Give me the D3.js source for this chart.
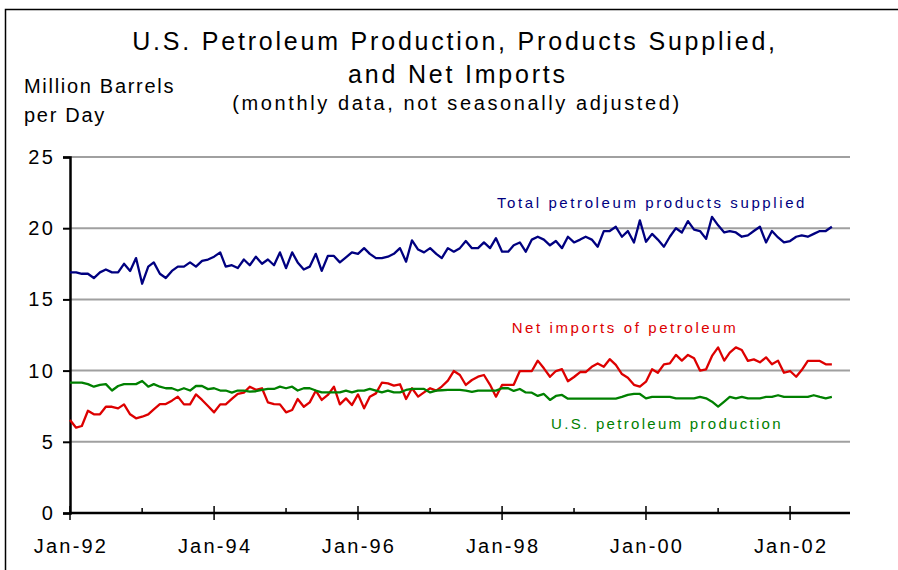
<!DOCTYPE html>
<html lang="en">
<head>
<meta charset="utf-8" />
<title>U.S. Petroleum Production, Products Supplied, and Net Imports</title>
<script src="https://d3js.org/d3.v7.min.js"></script>
<style>
  body { margin: 0; background: #fff; }
  svg  { display: block; font-family: "Liberation Sans", Arial, sans-serif; }
  .title  { font-size: 25px; letter-spacing: 2.8px; fill: #000; text-anchor: middle; }
  .sub    { font-size: 20px; letter-spacing: 2.6px; fill: #000; text-anchor: middle; }
  .unit   { font-size: 20px; letter-spacing: 1.7px; fill: #000; }
  .tick   { font-size: 20px; letter-spacing: 2.2px; fill: #000; }
  .slabel { font-size: 15px; letter-spacing: 2.6px; text-anchor: middle; }
  .grid   { stroke: #a0a0a0; stroke-width: 2px; }
  .series { fill: none; stroke-width: 2.3px; stroke-linejoin: round; }
</style>
</head>
<body>
<svg id="chart" width="898" height="570"></svg>
<script>
// ---- data: monthly, Jan-92 .. Aug-02 (million barrels per day) ----
const startMonth = "1992-01";

const supplied = [
  16.9,16.9,16.8,16.8,16.5,16.9,17.1,16.9,16.9,17.5,17.0,17.9,
  16.1,17.3,17.6,16.8,16.5,17.0,17.3,17.3,17.6,17.3,17.7,17.8,
  18.0,18.3,17.3,17.4,17.2,17.8,17.4,18.0,17.5,17.8,17.4,18.3,
  17.2,18.3,17.6,17.1,17.3,18.2,17.0,18.05,18.05,17.6,17.95,18.3,
  18.2,18.6,18.2,17.9,17.9,18.0,18.2,18.6,17.65,19.15,18.5,18.3,
  18.6,18.2,17.9,18.6,18.35,18.6,19.1,18.6,18.6,19.0,18.6,19.3,
  18.35,18.35,18.8,19.0,18.35,19.2,19.4,19.2,18.8,19.1,18.6,19.4,
  19.0,19.2,19.4,19.2,18.7,19.8,19.8,20.1,19.4,19.8,19.0,20.55,
  19.05,19.6,19.2,18.7,19.4,20.0,19.7,20.5,19.9,19.8,19.25,20.8,
  20.2,19.7,19.8,19.7,19.4,19.5,19.8,20.1,19.0,19.8,19.35,19.0,
  19.1,19.4,19.5,19.4,19.6,19.8,19.8,20.1
];

const imports = [
  6.53,5.99,6.11,7.18,6.93,6.93,7.46,7.46,7.35,7.63,6.93,6.65,
  6.76,6.93,7.28,7.65,7.65,7.89,8.17,7.63,7.63,8.33,7.94,7.51,
  7.07,7.63,7.63,8.01,8.36,8.45,8.87,8.65,8.76,7.77,7.65,7.63,
  7.07,7.23,8.01,7.46,7.77,8.59,7.94,8.29,8.87,7.63,8.05,7.58,
  8.33,7.35,8.17,8.4,9.15,9.1,8.94,9.04,8.01,8.76,8.17,8.47,
  8.76,8.59,8.88,9.3,9.97,9.69,8.99,9.34,9.57,9.69,9.0,8.17,
  8.99,9.0,9.0,9.97,9.97,9.97,10.7,10.16,9.57,9.97,10.1,9.25,
  9.55,9.9,9.9,10.27,10.5,10.27,10.8,10.4,9.76,9.5,9.0,8.87,
  9.22,10.09,9.85,10.44,10.51,11.1,10.7,11.1,10.86,10.0,10.09,11.03,
  11.63,10.7,11.26,11.63,11.45,10.68,10.79,10.58,10.93,10.44,10.7,9.85,
  9.97,9.57,10.04,10.68,10.68,10.68,10.44,10.44
];

const production = [
  9.15,9.15,9.15,9.05,8.87,9.0,9.05,8.6,8.92,9.05,9.05,9.05,
  9.27,8.87,9.05,8.87,8.76,8.76,8.6,8.76,8.6,8.92,8.92,8.7,
  8.76,8.6,8.6,8.45,8.6,8.6,8.52,8.55,8.64,8.71,8.71,8.87,
  8.76,8.87,8.6,8.76,8.76,8.6,8.47,8.47,8.47,8.47,8.6,8.47,
  8.6,8.6,8.71,8.6,8.47,8.6,8.47,8.47,8.64,8.71,8.71,8.71,
  8.47,8.6,8.62,8.64,8.64,8.64,8.59,8.5,8.59,8.59,8.59,8.59,
  8.76,8.76,8.57,8.71,8.47,8.45,8.22,8.36,7.94,8.22,8.29,8.03,
  8.03,8.03,8.03,8.03,8.03,8.03,8.03,8.03,8.15,8.29,8.36,8.36,
  8.05,8.15,8.15,8.15,8.15,8.05,8.05,8.05,8.05,8.15,8.05,7.82,
  7.47,7.82,8.15,8.05,8.15,8.05,8.05,8.05,8.15,8.15,8.27,8.15,
  8.15,8.15,8.15,8.15,8.27,8.15,8.05,8.15
];

const yTicks = [0, 5, 10, 15, 20, 25];
const xLabelYears = [1992, 1994, 1996, 1998, 2000, 2002];

const seriesInfo = [
  { name: "Total petroleum products supplied", values: supplied,   color: "#000080" },
  { name: "Net imports of petroleum",          values: imports,    color: "#dd0000" },
  { name: "U.S. petroleum production",         values: production, color: "#008000" }
];

// ---- layout ----
const svg = d3.select("#chart");
const parseMonth = d3.timeParse("%Y-%m");
const t0 = parseMonth(startMonth);
const months = d3.range(supplied.length).map(i => d3.timeMonth.offset(t0, i));

const x = d3.scaleTime()
  .domain([t0, d3.timeMonth.offset(t0, 130)])
  .range([70, 850]);
const y = d3.scaleLinear().domain([0, 25]).range([513, 157]);

// frame
svg.append("path")
  .attr("d", "M5.5,570 V9.5 H898")
  .attr("fill", "none").attr("stroke", "#000").attr("stroke-width", 1.5);

// titles
svg.append("text").attr("class", "title").attr("x", 455).attr("y", 50)
  .text("U.S. Petroleum Production, Products Supplied,");
svg.append("text").attr("class", "title").attr("x", 458).attr("y", 83)
  .text("and Net Imports");
svg.append("text").attr("class", "sub").attr("x", 457).attr("y", 110)
  .text("(monthly data, not seasonally adjusted)");
svg.append("text").attr("class", "unit").attr("x", 24).attr("y", 93).text("Million Barrels");
svg.append("text").attr("class", "unit").attr("x", 24).attr("y", 122).text("per Day");

// grid lines
svg.append("g").selectAll("line")
  .data(yTicks.filter(d => d > 0))
  .join("line")
    .attr("class", "grid")
    .attr("x1", x.range()[0]).attr("x2", x.range()[1])
    .attr("y1", d => y(d)).attr("y2", d => y(d));

// y axis
const yAxis = svg.append("g")
  .attr("transform", `translate(${x.range()[0]},0)`)
  .call(d3.axisLeft(y).tickValues(yTicks).tickSize(7).tickPadding(8).tickFormat(d3.format("d")));
yAxis.select(".domain").attr("stroke-width", 2.5);
yAxis.selectAll(".tick line").attr("stroke-width", 2);
yAxis.selectAll("text").attr("class", "tick").attr("font-family", null).attr("font-size", null);

// x axis
const years = d3.range(1992, 2003).map(yr => new Date(yr, 0, 1));
const xg = svg.append("g");
xg.append("line")
  .attr("x1", x.range()[0]).attr("x2", x.range()[1])
  .attr("y1", y(0)).attr("y2", y(0))
  .attr("stroke", "#000").attr("stroke-width", 2.5);
xg.selectAll("line.yt")
  .data(years)
  .join("line")
    .attr("class", "yt")
    .attr("x1", d => x(d)).attr("x2", d => x(d))
    .attr("y1", d => xLabelYears.includes(d.getFullYear()) ? y(0) - 7 : y(0) - 5)
    .attr("y2", d => xLabelYears.includes(d.getFullYear()) ? y(0) + 7 : y(0))
    .attr("stroke", "#000").attr("stroke-width", 1.5);
xg.selectAll("text")
  .data(years.filter(d => xLabelYears.includes(d.getFullYear())))
  .join("text")
    .attr("class", "tick")
    .attr("x", d => x(d) + 1).attr("y", 553)
    .attr("text-anchor", "middle")
    .text(d3.timeFormat("%b-%y"));

// series lines
const line = d3.line()
  .x((d, i) => x(months[i]))
  .y(d => y(d));

svg.append("g").selectAll("path")
  .data(seriesInfo)
  .join("path")
    .attr("class", "series")
    .attr("stroke", d => d.color)
    .attr("d", d => line(d.values));

// series labels
const labelPos = [
  { x: 652, y: 208, ls: 2.6 },
  { x: 625, y: 333, ls: 2.6 },
  { x: 667, y: 429, ls: 2.3 }
];
svg.append("g").selectAll("text")
  .data(seriesInfo)
  .join("text")
    .attr("class", "slabel")
    .attr("fill", d => d.color)
    .attr("x", (d, i) => labelPos[i].x)
    .attr("y", (d, i) => labelPos[i].y)
    .style("letter-spacing", (d, i) => labelPos[i].ls + "px")
    .text(d => d.name);
</script>
</body>
</html>
